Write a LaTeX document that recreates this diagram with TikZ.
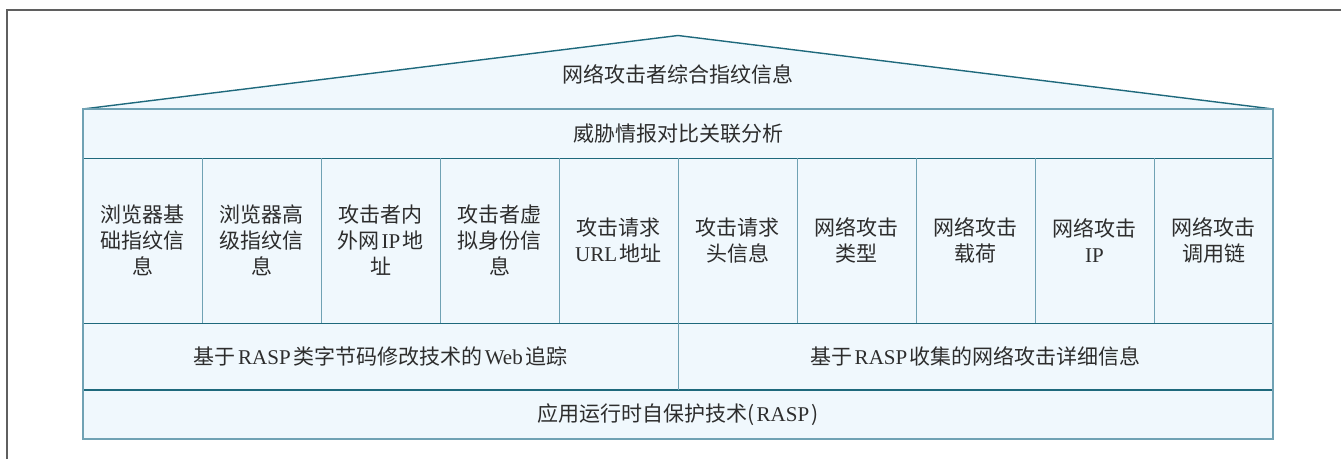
\documentclass[tikz,border=0pt]{standalone}
\usepackage{fontspec}
\setmainfont{Noto Sans CJK SC}
\newfontfamily\latinfont{Liberation Serif}
\newcommand\lat[1]{\hspace{0.12em}{\latinfont #1}\hspace{0.12em}}
\definecolor{cellfill}{RGB}{240,248,253}
\definecolor{darkline}{RGB}{30,105,124}
\definecolor{lightline}{RGB}{112,162,180}
\definecolor{framegray}{RGB}{95,95,95}
\definecolor{txt}{RGB}{45,45,45}
\begin{document}
\begin{tikzpicture}[x=1pt,y=-1pt,
  cell/.style={fill=cellfill, inner sep=0pt, align=center, text=txt,
    font=\fontsize{21}{26}\selectfont},
  colcell/.style={cell, minimum width=119pt, minimum height=165pt},
  hline/.style={draw=darkline, line width=1.4pt},
  vline/.style={draw=lightline, line width=1.4pt}]
\useasboundingbox (0,0) rectangle (1341,459);
% outer frame
\draw[framegray, line width=1.5pt] (7,459) -- (7,10) -- (1341,10);
% roof
\coordinate (rl) at (83,109);
\coordinate (apex) at (678,35.5);
\coordinate (rr) at (1273,109);
\fill[cellfill] (rl) -- (apex) -- (rr) -- cycle;
\draw[hline] (rl) -- (apex) -- (rr);
\node[cell, fill=none] (roof) at (678,74) {网络攻击者综合指纹信息};
% rows
\node[cell, minimum width=1190pt, minimum height=49pt] (threat) at (678,133.5) {威胁情报对比关联分析};
\node[colcell] (c1) at (142.5,240.5) {浏览器基\\础指纹信\\息};
\node[colcell] (c2) at (261.5,240.5) {浏览器高\\级指纹信\\息};
\node[colcell] (c3) at (380.5,240.5) {攻击者内\\外网\lat{IP}地\\址};
\node[colcell] (c4) at (499.5,240.5) {攻击者虚\\拟身份信\\息};
\node[colcell] (c5) at (618.5,240.5) {攻击请求\\{\latinfont URL}\hspace{0.12em}地址};
\node[colcell] (c6) at (737.5,240.5) {攻击请求\\头信息};
\node[colcell] (c7) at (856.5,240.5) {网络攻击\\类型};
\node[colcell] (c8) at (975.5,240.5) {网络攻击\\载荷};
\node[colcell] (c9) at (1094.5,240.5) {网络攻击\\{\latinfont IP}};
\node[colcell] (c10) at (1213.5,240.5) {网络攻击\\调用链};
\node[cell, minimum width=595pt, minimum height=67pt] (trace) at (380.5,356.5) {基于\lat{RASP}类字节码修改技术的\lat{Web}追踪};
\node[cell, minimum width=595pt, minimum height=67pt] (collect) at (975.5,356.5) {基于\lat{RASP}收集的网络攻击详细信息};
\node[cell, minimum width=1190pt, minimum height=49pt] (rasp) at (678,414.5) {应用运行时自保护技术(\lat{RASP})};
% inner lines
\draw[hline] (threat.south west) -- (threat.south east);
\draw[hline] (c1.south west) -- (c10.south east);
\draw[hline] (rasp.north west) -- (rasp.north east);
\foreach \a/\b in {c1/c2,c2/c3,c3/c4,c4/c5,c5/c6,c6/c7,c7/c8,c8/c9,c9/c10}
  \draw[vline] (\a.north east) -- (\a.south east);
\draw[vline] (trace.north east) -- (trace.south east);
% outer border
\draw[vline, line width=1.6pt] (threat.north west) rectangle (rasp.south east);
\end{tikzpicture}
\end{document}
